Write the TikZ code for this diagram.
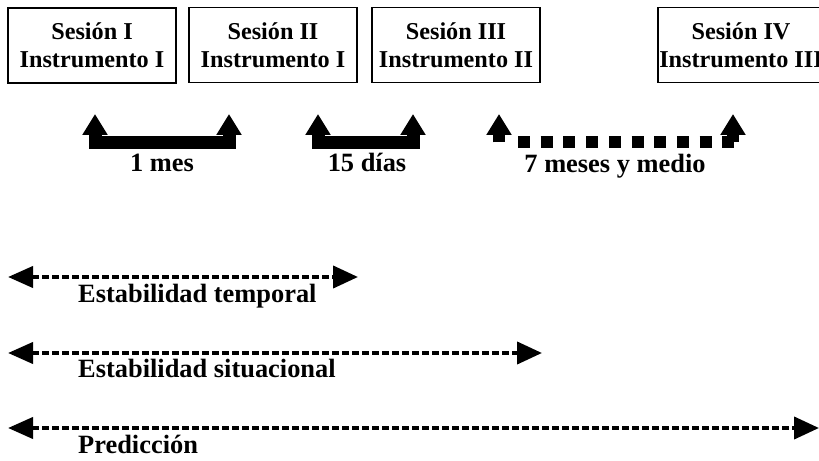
\documentclass[tikz,border=0pt]{standalone}
\usepackage{fontspec}
\setmainfont{Liberation Serif}
\usetikzlibrary{arrows.meta}
\begin{document}
\begin{tikzpicture}[x=1bp,y=-1bp,
  box/.style={draw, line width=1.6bp, minimum height=75bp, align=center, inner sep=0pt,
    font=\bfseries\fontsize{24.3}{28}\selectfont},
  lbl/.style={font=\bfseries\fontsize{26.5}{30}\selectfont, inner sep=0pt},
  uparr/.style={line width=13bp, line join=miter, {Triangle[width=24bp,length=21bp]}-{Triangle[width=24bp,length=21bp]}},
  upone/.style={line width=12bp, -{Triangle[width=24bp,length=21bp]}},
  dotbar/.style={line width=12bp, dash pattern=on 12bp off 10.7bp},
  spanarr/.style={line width=4bp, dash pattern=on 7bp off 3bp,
    {Triangle[width=21bp,length=25bp]}-{Triangle[width=22bp,length=25bp]}}
]
\clip (0,0) rectangle (819,461);
\fill[white] (0,0) rectangle (819,461);

% session boxes
\node[box, minimum width=168bp] (s1) at (92,45.5) {Sesión I\\Instrumento I};
\node[box, minimum width=168bp] (s2) at (273,45) {Sesión II\\Instrumento I};
\node[box, minimum width=168bp] (s3) at (456,45) {Sesión III\\Instrumento II};
\node[box, minimum width=166bp] (s4) at (741,45) {Sesión IV\\Instrumento III};

% interval markers
\coordinate (a1) at (95,114);  \coordinate (b1) at (229,114);
\coordinate (a2) at (318,114); \coordinate (b2) at (413,114);
\coordinate (a3) at (499,114); \coordinate (b3) at (733,114);
\draw[uparr] (a1) -- (95,142.5) -- (229,142.5) -- (b1);
\draw[uparr] (a2) -- (318,142.5) -- (413,142.5) -- (b2);
\draw[upone] (499,142.5) -- (a3);
\draw[upone] (733,142.5) -- (b3);
\draw[dotbar] (518,142.5) -- (739,142.5);

\node[lbl, anchor=base] (l1) at (162,172) {1 mes};
\node[lbl, anchor=base] (l2) at (367,172) {15 días};
\node[lbl, anchor=base] (l3) at (615,173) {7 meses y medio};

% span arrows
\coordinate (p1) at (8,277);   \coordinate (q1) at (358,277);
\coordinate (p2) at (8,353);   \coordinate (q2) at (542,353);
\coordinate (p3) at (8,428);   \coordinate (q3) at (819,428);
\draw[spanarr] (p1) -- (q1);
\draw[spanarr] (p2) -- (q2);
\draw[spanarr] (p3) -- (q3);

\node[lbl, anchor=base west] (t1) at (78,303) {Estabilidad temporal};
\node[lbl, anchor=base west] (t2) at (78,378) {Estabilidad situacional};
\node[lbl, anchor=base west] (t3) at (78,453) {Predicción};
\end{tikzpicture}
\end{document}
